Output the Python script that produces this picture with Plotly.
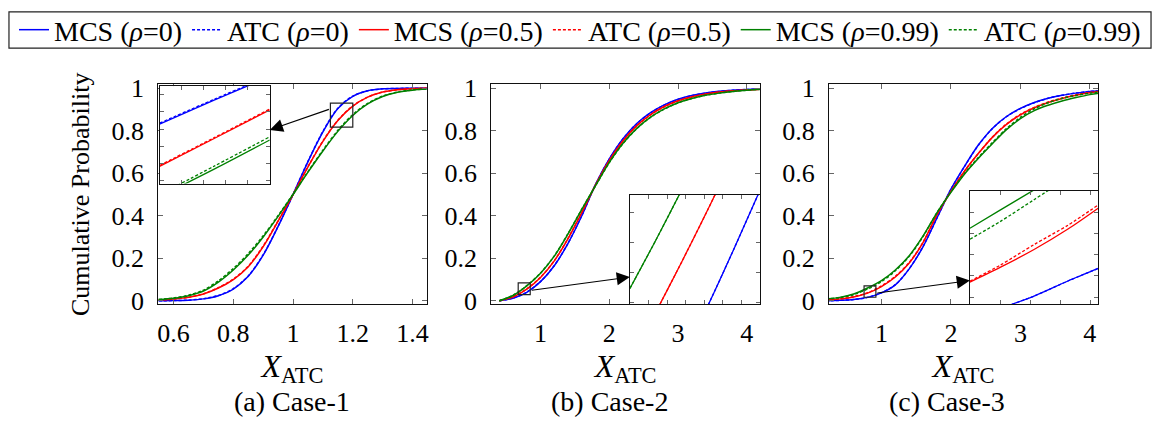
import plotly.graph_objects as go

# ---------------------------------------------------------------- data ----
# Case-1 : empirical CDFs of X_ATC
x_case1 = [0.55, 0.6, 0.65, 0.7, 0.75, 0.8, 0.85, 0.9, 0.95, 1.0,
           1.05, 1.1, 1.15, 1.2, 1.25, 1.3, 1.35, 1.4, 1.45]
mcs1_rho0 = [0.000, 0.001, 0.003, 0.009, 0.024, 0.055, 0.115, 0.215, 0.350, 0.500,
             0.655, 0.795, 0.905, 0.962, 0.988, 0.997, 0.999, 1.000, 1.000]
atc1_rho0 = [0.000, 0.001, 0.003, 0.010, 0.025, 0.057, 0.117, 0.217, 0.351, 0.500,
             0.656, 0.797, 0.906, 0.963, 0.988, 0.997, 0.999, 1.000, 1.000]
mcs1_rho05 = [0.004, 0.008, 0.016, 0.032, 0.060, 0.100, 0.160, 0.255, 0.375, 0.500,
              0.630, 0.750, 0.848, 0.916, 0.958, 0.982, 0.993, 0.998, 1.000]
atc1_rho05 = [0.004, 0.008, 0.017, 0.033, 0.062, 0.102, 0.163, 0.258, 0.377, 0.500,
              0.631, 0.752, 0.849, 0.917, 0.958, 0.982, 0.993, 0.998, 1.000]
mcs1_rho099 = [0.006, 0.012, 0.024, 0.046, 0.088, 0.145, 0.215, 0.300, 0.397, 0.500,
               0.605, 0.705, 0.797, 0.872, 0.926, 0.961, 0.981, 0.991, 0.996]
atc1_rho099 = [0.006, 0.013, 0.026, 0.050, 0.094, 0.152, 0.222, 0.306, 0.401, 0.502,
               0.608, 0.709, 0.802, 0.876, 0.929, 0.963, 0.982, 0.992, 0.997]

# Case-2
x_case2 = [0.4, 0.6, 0.8, 1.0, 1.2, 1.4, 1.6, 1.8, 2.0, 2.2,
           2.4, 2.6, 2.8, 3.0, 3.2, 3.4, 3.6, 3.8, 4.0, 4.2]
mcs2_rho0 = [0.000, 0.012, 0.040, 0.090, 0.165, 0.270, 0.400, 0.548, 0.668, 0.763,
             0.834, 0.885, 0.922, 0.948, 0.966, 0.978, 0.986, 0.991, 0.994, 0.996]
atc2_rho0 = [0.000, 0.013, 0.041, 0.091, 0.166, 0.271, 0.401, 0.547, 0.667, 0.762,
             0.833, 0.884, 0.921, 0.947, 0.965, 0.977, 0.985, 0.991, 0.994, 0.996]
mcs2_rho05 = [0.000, 0.018, 0.055, 0.110, 0.188, 0.293, 0.415, 0.545, 0.660, 0.753,
              0.824, 0.876, 0.914, 0.941, 0.960, 0.973, 0.982, 0.988, 0.992, 0.995]
atc2_rho05 = [0.000, 0.019, 0.056, 0.111, 0.189, 0.294, 0.416, 0.544, 0.659, 0.752,
              0.823, 0.875, 0.913, 0.940, 0.959, 0.972, 0.982, 0.988, 0.992, 0.995]
mcs2_rho099 = [0.000, 0.025, 0.070, 0.130, 0.210, 0.315, 0.430, 0.542, 0.651, 0.741,
               0.811, 0.864, 0.903, 0.932, 0.952, 0.967, 0.977, 0.985, 0.991, 0.995]
atc2_rho099 = [0.000, 0.026, 0.071, 0.131, 0.211, 0.316, 0.431, 0.541, 0.650, 0.740,
               0.810, 0.863, 0.902, 0.931, 0.952, 0.967, 0.977, 0.985, 0.991, 0.995]

# Case-3
x_case3 = [0.2, 0.4, 0.6, 0.8, 1.0, 1.2, 1.4, 1.6, 1.8, 2.0, 2.2,
           2.4, 2.6, 2.8, 3.0, 3.2, 3.4, 3.6, 3.8, 4.0, 4.2]
mcs3_rho0 = [0.000, 0.002, 0.006, 0.016, 0.037, 0.075, 0.150, 0.255, 0.390, 0.525, 0.635,
             0.735, 0.812, 0.867, 0.905, 0.933, 0.953, 0.967, 0.977, 0.985, 0.990]
atc3_rho0 = [0.000, 0.002, 0.006, 0.016, 0.038, 0.076, 0.151, 0.256, 0.390, 0.524, 0.634,
             0.734, 0.811, 0.866, 0.904, 0.932, 0.953, 0.967, 0.977, 0.985, 0.990]
mcs3_rho05 = [0.004, 0.009, 0.018, 0.036, 0.067, 0.112, 0.178, 0.275, 0.405, 0.515, 0.612,
              0.695, 0.770, 0.830, 0.875, 0.908, 0.933, 0.952, 0.967, 0.979, 0.987]
atc3_rho05 = [0.004, 0.009, 0.019, 0.038, 0.070, 0.115, 0.180, 0.276, 0.405, 0.514, 0.611,
              0.695, 0.771, 0.832, 0.877, 0.910, 0.935, 0.954, 0.969, 0.980, 0.988]
mcs3_rho099 = [0.008, 0.016, 0.032, 0.060, 0.095, 0.145, 0.212, 0.305, 0.415, 0.510, 0.598,
               0.672, 0.740, 0.805, 0.857, 0.895, 0.920, 0.940, 0.956, 0.970, 0.980]
atc3_rho099 = [0.008, 0.015, 0.029, 0.055, 0.090, 0.141, 0.209, 0.303, 0.415, 0.512, 0.601,
               0.676, 0.745, 0.810, 0.863, 0.903, 0.932, 0.952, 0.966, 0.977, 0.984]

# zoomed detail views (inset windows)
zx1 = [1.125, 1.1625, 1.20]
zmcs1_rho0 = [0.886, 0.914, 0.941]
zatc1_rho0 = [0.887, 0.915, 0.942]
zmcs1_rho05 = [0.837, 0.8695, 0.9024]
zatc1_rho05 = [0.838, 0.8705, 0.9034]
zmcs1_rho099 = [0.802, 0.834, 0.8675]
zatc1_rho099 = [0.8042, 0.8375, 0.8712]

zx2 = [0.675, 0.71, 0.745, 0.78, 0.815, 0.85]
zmcs2_rho0 = [-0.050, -0.024, 0.002, 0.0285, 0.057, 0.0865]
zatc2_rho0 = [-0.050, -0.024, 0.002, 0.0285, 0.057, 0.0865]
zmcs2_rho05 = [0.000, 0.0252, 0.0506, 0.0768, 0.104, 0.132]
zatc2_rho05 = [0.000, 0.0252, 0.0506, 0.0768, 0.104, 0.132]
zmcs2_rho099 = [0.037, 0.0614, 0.0868, 0.113, 0.140, 0.168]
zatc2_rho099 = [0.037, 0.0614, 0.0868, 0.113, 0.140, 0.168]

zx3 = [0.75, 0.79, 0.835, 0.88, 0.92]
zmcs3_rho0 = [0.009, 0.0146, 0.0205, 0.0276, 0.0335]
zatc3_rho0 = [0.009, 0.0146, 0.0205, 0.0276, 0.0335]
zmcs3_rho05 = [0.0271, 0.0340, 0.0424, 0.0520, 0.0618]
zatc3_rho05 = [0.0275, 0.0350, 0.0447, 0.0538, 0.0633]
zmcs3_rho099 = [0.0524, 0.0609, 0.0704, 0.0800, 0.0890]
zatc3_rho099 = [0.0472, 0.0555, 0.0658, 0.0762, 0.0860]

legend_names = ["MCS (<i>ρ</i>=0)", "ATC (<i>ρ</i>=0)", "MCS (<i>ρ</i>=0.5)",
                "ATC (<i>ρ</i>=0.5)", "MCS (<i>ρ</i>=0.99)", "ATC (<i>ρ</i>=0.99)"]
captions = ["(a) Case-1", "(b) Case-2", "(c) Case-3"]
yticks = [0, 0.2, 0.4, 0.6, 0.8, 1]
xticks_case1 = [0.6, 0.8, 1, 1.2, 1.4]
xticks_case23 = [1, 2, 3, 4]

# ------------------------------------------------------------- styling ----
W, H = 1158, 430
SERIF = "Liberation Serif"
COLORS = ["#0000ff", "#0000ff", "#ff0000", "#ff0000", "#008000", "#008000"]
DASHES = ["solid", "3px,2px", "solid", "3px,2px", "solid", "3px,2px"]

# panel placement (paper fractions) and axis ranges
main_x_dom = [[0.1360, 0.3687], [0.4244, 0.6572], [0.7168, 0.9499]]
main_y_dom = [0.2802, 0.8186]
main_x_rng = [[0.548, 1.448], [0.282, 4.193], [0.244, 4.119]]
main_y_rng = [-0.017, 1.019]

inset_x_dom = [[0.1373, 0.2327], [0.5445, 0.6572], [0.8389, 0.9499]]
inset_y_dom = [[0.5756, 0.8140], [0.2802, 0.5477], [0.2802, 0.5581]]
inset_x_rng = [[1.125, 1.200], [0.675, 0.850], [0.750, 0.920]]
inset_y_rng = [[0.817, 0.930], [0.029, 0.084], [0.0166, 0.070]]
inset_dx = [0.015, 0.025, 0.04]
inset_dy = [0.02, 0.015, 0.01]

# arrows: (rectangle side, fraction down that side, fraction down inset side)
arrow_spec = [("left", 0.24, 0.45), ("right", 0.65, 0.75), ("right", 0.65, 0.79)]

caption_x = [0.2522, 0.5268, 0.8187]
caption_y = 0.043
legend_box = dict(x0=0.0069, x1=0.9957, y0=0.907, y1=0.9953)

main_sets = [
    (x_case1, [mcs1_rho0, atc1_rho0, mcs1_rho05, atc1_rho05, mcs1_rho099, atc1_rho099]),
    (x_case2, [mcs2_rho0, atc2_rho0, mcs2_rho05, atc2_rho05, mcs2_rho099, atc2_rho099]),
    (x_case3, [mcs3_rho0, atc3_rho0, mcs3_rho05, atc3_rho05, mcs3_rho099, atc3_rho099]),
]
inset_sets = [
    (zx1, [zmcs1_rho0, zatc1_rho0, zmcs1_rho05, zatc1_rho05, zmcs1_rho099, zatc1_rho099]),
    (zx2, [zmcs2_rho0, zatc2_rho0, zmcs2_rho05, zatc2_rho05, zmcs2_rho099, zatc2_rho099]),
    (zx3, [zmcs3_rho0, zatc3_rho0, zmcs3_rho05, zatc3_rho05, zmcs3_rho099, zatc3_rho099]),
]

fig = go.Figure()

for p, (xs, series) in enumerate(main_sets):
    ax = "" if p == 0 else str(p + 1)
    for k, ys in enumerate(series):
        fig.add_trace(go.Scatter(
            x=xs, y=ys, mode="lines", name=legend_names[k],
            line=dict(color=COLORS[k], width=1.5, dash=DASHES[k], shape="spline", smoothing=0.9),
            xaxis="x" + ax, yaxis="y" + ax, showlegend=(p == 0),
        ))

for p, (xs, series) in enumerate(inset_sets):
    ax = str(p + 4)
    for k, ys in enumerate(series):
        fig.add_trace(go.Scatter(
            x=xs, y=ys, mode="lines", name=legend_names[k],
            line=dict(color=COLORS[k], width=1.3, dash=DASHES[k], shape="spline", smoothing=0.8),
            xaxis="x" + ax, yaxis="y" + ax, showlegend=False,
        ))

axis_base = dict(showline=True, linecolor="#111", linewidth=1, mirror="allticks",
                 ticks="inside", ticklen=5, tickcolor="#666", tickwidth=1,
                 showgrid=False, zeroline=False,
                 tickfont=dict(family=SERIF, size=26, color="#000"))

layout = dict(
    width=W, height=H, margin=dict(l=0, r=0, t=0, b=0),
    paper_bgcolor="white", plot_bgcolor="white",
    font=dict(family=SERIF, size=26, color="#000"),
    showlegend=True,
    legend=dict(orientation="h", x=0.5013, xanchor="center",
                y=(legend_box["y0"] + legend_box["y1"]) / 2, yanchor="middle",
                borderwidth=0, bgcolor="rgba(0,0,0,0)",
                font=dict(family=SERIF, size=28, color="#000"),
                itemwidth=30, tracegroupgap=0, traceorder="normal"),
)

for p in range(3):
    sx = "" if p == 0 else str(p + 1)
    layout["xaxis" + sx] = dict(axis_base, domain=main_x_dom[p], range=main_x_rng[p],
                                tickvals=xticks_case1 if p == 0 else xticks_case23,
                                anchor="y" + sx, ticklabelstandoff=5,
                                title=dict(text="<i>X</i><sub>ATC</sub>", standoff=3,
                                           font=dict(family=SERIF, size=32)))
    layout["yaxis" + sx] = dict(axis_base, domain=main_y_dom, range=main_y_rng,
                                tickvals=yticks, anchor="x" + sx, ticklabelstandoff=8)
layout["yaxis"]["title"] = dict(text="Cumulative Probability", standoff=14,
                                font=dict(family=SERIF, size=26))

for p in range(3):
    s = str(p + 4)
    layout["xaxis" + s] = dict(axis_base, domain=inset_x_dom[p], range=inset_x_rng[p],
                               dtick=inset_dx[p], tick0=inset_x_rng[p][0],
                               showticklabels=False, ticklen=4, anchor="y" + s)
    layout["yaxis" + s] = dict(axis_base, domain=inset_y_dom[p], range=inset_y_rng[p],
                               dtick=inset_dy[p], tick0=0, showticklabels=False,
                               ticklen=4, anchor="x" + s)


def paper_to_data(v, dom, rng):
    return rng[0] + (v - dom[0]) / (dom[1] - dom[0]) * (rng[1] - rng[0])


# frame around the legend
shapes = [dict(type="rect", xref="paper", yref="paper", layer="above",
               line=dict(color="#222", width=1.2), **legend_box)]
annotations = []
for p in range(3):
    sx = "" if p == 0 else str(p + 1)
    xr, yr = inset_x_rng[p], inset_y_rng[p]
    # window of the detail view, marked on the main axes
    shapes.append(dict(type="rect", xref="x" + sx, yref="y" + sx,
                       x0=xr[0], x1=xr[1], y0=yr[0], y1=yr[1],
                       line=dict(color="#222", width=1.2)))
    side, f_rect, f_inset = arrow_spec[p]
    tail_x = xr[0] if side == "left" else xr[1]
    tail_y = yr[1] - f_rect * (yr[1] - yr[0])
    idom_x, idom_y = inset_x_dom[p], inset_y_dom[p]
    head_px = idom_x[1] if side == "left" else idom_x[0]
    head_py = idom_y[1] - f_inset * (idom_y[1] - idom_y[0])
    head_x = paper_to_data(head_px, main_x_dom[p], main_x_rng[p])
    head_y = paper_to_data(head_py, main_y_dom, main_y_rng)
    annotations.append(dict(x=head_x, y=head_y, ax=tail_x, ay=tail_y,
                            xref="x" + sx, yref="y" + sx, axref="x" + sx, ayref="y" + sx,
                            showarrow=True, arrowhead=2, arrowsize=2.4, arrowwidth=1.1,
                            arrowcolor="#000", text=""))
    # sub-figure caption
    annotations.append(dict(x=caption_x[p], y=caption_y, xref="paper", yref="paper",
                            text=captions[p], showarrow=False, xanchor="center",
                            yanchor="middle", font=dict(family=SERIF, size=28)))

layout["shapes"] = shapes
layout["annotations"] = annotations
fig.update_layout(**layout)

fig.write_html("out.html")
